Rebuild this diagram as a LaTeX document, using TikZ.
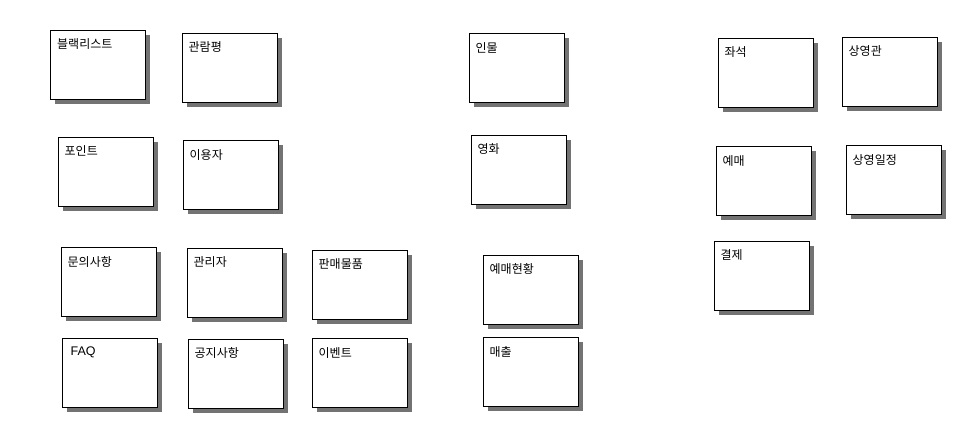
\documentclass[tikz,border=0pt]{standalone}
\usepackage{fontspec}
\newfontfamily\korfont{Noto Sans CJK KR}
\newfontfamily\latfont{Liberation Sans}
\usetikzlibrary{shadows}

\begin{document}
\begin{tikzpicture}
        [x=1pt,y=-1pt,
        entity-box/.style={rectangle,draw=black,line width=1pt,fill=white,
                minimum width=95pt,minimum height=69pt,inner sep=0pt,
                drop shadow={shadow xshift=4.5pt,shadow yshift=-4.5pt,fill=black!55,opacity=1}},
        box-title/.style={anchor=north west,inner sep=0pt,xshift=7pt,yshift=-9pt,font=\korfont\fontsize{12}{14}\selectfont},
        box-title-latin/.style={anchor=north west,inner sep=0pt,xshift=9pt,yshift=-9pt,font=\latfont\fontsize{12.5}{14}\selectfont}
        ]
        \useasboundingbox (0,0) rectangle (956,424);
        % left group
        \node[entity-box,label={[box-title]north west:블랙리스트}] (node-1) at (98, 64.5) {};
        \node[entity-box,label={[box-title]north west:관람평}] (node-2) at (229.5, 67.5) {};
        \node[entity-box,label={[box-title]north west:포인트}] (node-3) at (105.5, 171.5) {};
        \node[entity-box,label={[box-title]north west:이용자}] (node-4) at (230.5, 175) {};
        \node[entity-box,label={[box-title]north west:문의사항}] (node-5) at (108.5, 282) {};
        \node[entity-box,label={[box-title]north west:관리자}] (node-6) at (234.5, 282.5) {};
        \node[entity-box,label={[box-title]north west:판매물품}] (node-7) at (359.5, 284.5) {};
        \node[entity-box,label={[box-title-latin]north west:FAQ}] (node-8) at (109.5, 372.5) {};
        \node[entity-box,label={[box-title]north west:공지사항}] (node-9) at (235.5, 373.5) {};
        \node[entity-box,label={[box-title]north west:이벤트}] (node-10) at (359.5, 373) {};
        % middle group
        \node[entity-box,label={[box-title]north west:인물}] (node-11) at (516.5, 68) {};
        \node[entity-box,label={[box-title]north west:영화}] (node-12) at (518.5, 169.5) {};
        \node[entity-box,label={[box-title]north west:예매현황}] (node-13) at (530.5, 289.5) {};
        \node[entity-box,label={[box-title]north west:매출}] (node-14) at (530.5, 372) {};
        % right group
        \node[entity-box,label={[box-title]north west:좌석}] (node-15) at (765.5, 72.5) {};
        \node[entity-box,label={[box-title]north west:상영관}] (node-16) at (889.5, 71.5) {};
        \node[entity-box,label={[box-title]north west:예매}] (node-17) at (763.5, 181) {};
        \node[entity-box,label={[box-title]north west:상영일정}] (node-18) at (893.5, 180) {};
        \node[entity-box,label={[box-title]north west:결제}] (node-19) at (761.5, 275.5) {};
    \end{tikzpicture}
\end{document}
